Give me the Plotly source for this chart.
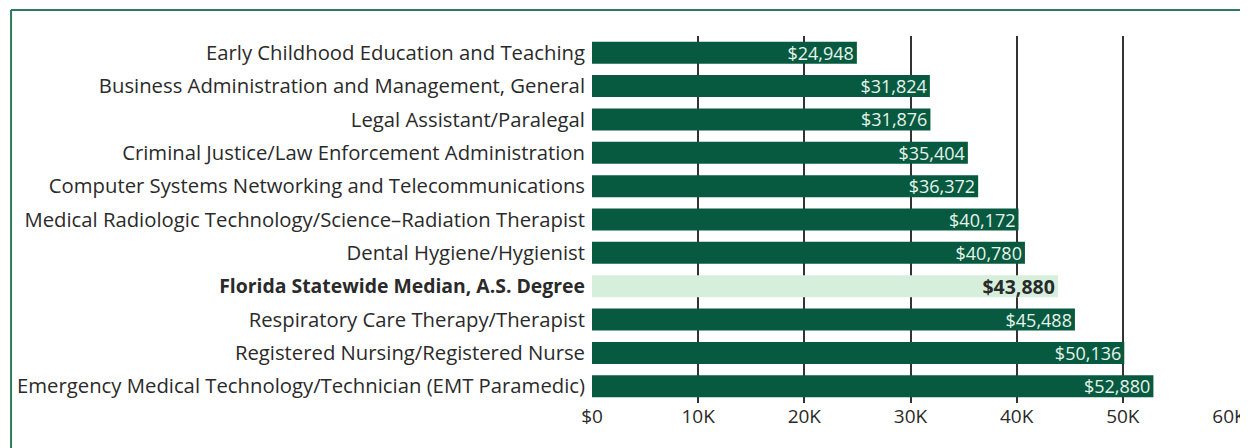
import plotly.graph_objects as go

categories = [
    "Early Childhood Education and Teaching",
    "Business Administration and Management, General",
    "Legal Assistant/Paralegal",
    "Criminal Justice/Law Enforcement Administration",
    "Computer Systems Networking and Telecommunications",
    "Medical Radiologic Technology/Science\u2013Radiation Therapist",
    "Dental Hygiene/Hygienist",
    "Florida Statewide Median, A.S. Degree",
    "Respiratory Care Therapy/Therapist",
    "Registered Nursing/Registered Nurse",
    "Emergency Medical Technology/Technician (EMT Paramedic)",
]
salaries = [24948, 31824, 31876, 35404, 36372, 40172, 40780, 43880, 45488, 50136, 52880]
highlight = "Florida Statewide Median, A.S. Degree"
tick_vals = [0, 10000, 20000, 30000, 40000, 50000, 60000]
tick_text = ["$0", "10K", "20K", "30K", "40K", "50K", "60K"]

DARK = "#075a40"
LIGHT = "#d6efdc"
FONT = "Open Sans"

colors = [LIGHT if c == highlight else DARK for c in categories]
txt_colors = ["#2a2a2a" if c == highlight else "#e6f3ea" for c in categories]
txt_sizes = [19.5 if c == highlight else 18 for c in categories]
texts = [(f"<b>${v:,}</b>" if c == highlight else f"${v:,}") for c, v in zip(categories, salaries)]
ylabels = [(f"<span style='font-size:19.4px'><b>{c}</b></span>" if c == highlight else c) for c in categories]

fig = go.Figure(go.Bar(
    x=salaries, y=list(range(len(categories))), orientation="h",
    marker=dict(color=colors, line=dict(width=0)),
    width=0.66,
    text=texts, textposition="inside", insidetextanchor="end",
    constraintext="none",
    textfont=dict(color=txt_colors, size=txt_sizes, family=FONT),
    cliponaxis=False,
))

fig.update_layout(
    width=1240, height=440,
    margin=dict(l=584, r=19, t=28, b=45, autoexpand=False),
    paper_bgcolor="white", plot_bgcolor="white",
    font=dict(family=FONT, size=20.3, color="#2a2a2a"),
    showlegend=False,
    xaxis=dict(range=[0, 60000], tickvals=tick_vals, ticktext=tick_text,
               showgrid=True, gridcolor="#333333", gridwidth=1.6,
               zeroline=False, showline=False, ticks="", automargin=False,
               tickfont=dict(size=19, color="#2a2a2a")),
    yaxis=dict(tickvals=list(range(len(categories))), ticktext=ylabels,
               range=[len(categories) - 0.5, -0.5],
               showgrid=False, zeroline=False, showline=False, ticks="",
               automargin=False, ticklabelstandoff=6,
               tickfont=dict(size=20.3, color="#2a2a2a")),
    shapes=[
        dict(type="line", xref="paper", yref="paper", x0=-0.912, x1=1.05, y0=1.0708, y1=1.0708,
             line=dict(color="#2e7a5a", width=2)),
        dict(type="line", xref="paper", yref="paper", x0=-0.912, x1=-0.912, y0=1.0708, y1=-0.2,
             line=dict(color="#2e7a5a", width=2)),
    ],
)

fig.write_html("out.html")
